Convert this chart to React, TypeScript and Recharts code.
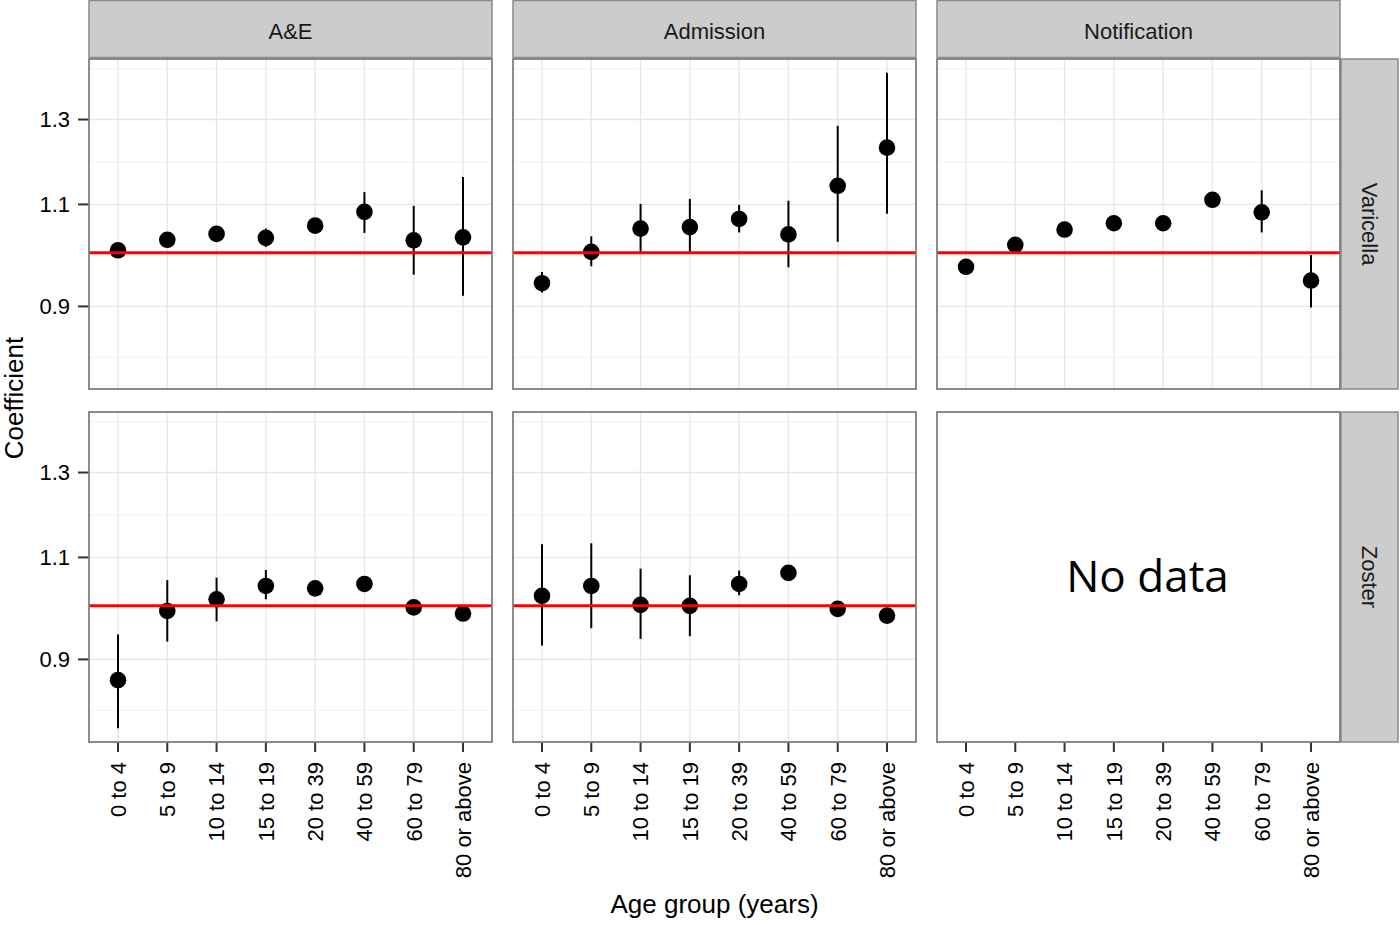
import React from "react";
import { ComposedChart, Scatter, XAxis, YAxis, ReferenceLine, ErrorBar } from "recharts";

const ageGroups = ["0 to 4", "5 to 9", "10 to 14", "15 to 19", "20 to 39", "40 to 59", "60 to 79", "80 or above"];
const sources = ["A&E", "Admission", "Notification"];
const diseases = ["Varicella", "Zoster"];

const yTicks = [0.9, 1.1, 1.3];
const yMinor = [0.814, 0.995, 1.196, 1.437];
const yDomain = [0.765, 1.4644];

const aeVaricellaEst = [1.005, 1.026, 1.038, 1.030, 1.055, 1.084, 1.025, 1.031];
const aeVaricellaLow = [0.995, 1.015, 1.027, 1.012, 1.045, 1.040, 0.958, 0.919];
const aeVaricellaHigh = [1.015, 1.037, 1.049, 1.049, 1.066, 1.127, 1.097, 1.161];

const admVaricellaEst = [0.942, 1.002, 1.049, 1.052, 1.069, 1.037, 1.141, 1.230];
const admVaricellaLow = [0.925, 0.974, 1.002, 1.002, 1.041, 0.972, 1.022, 1.080];
const admVaricellaHigh = [0.963, 1.033, 1.101, 1.112, 1.099, 1.108, 1.284, 1.425];

const notVaricellaEst = [0.973, 1.016, 1.047, 1.060, 1.060, 1.110, 1.083, 0.947];
const notVaricellaLow = [0.965, 1.008, 1.039, 1.052, 1.052, 1.102, 1.041, 0.898];
const notVaricellaHigh = [0.981, 1.024, 1.055, 1.068, 1.068, 1.118, 1.131, 0.996];

const aeZosterEst = [0.864, 0.990, 1.013, 1.040, 1.035, 1.044, 0.997, 0.985];
const aeZosterLow = [0.786, 0.932, 0.970, 1.013, 1.027, 1.036, 0.989, 0.977];
const aeZosterHigh = [0.945, 1.052, 1.057, 1.073, 1.043, 1.052, 1.005, 0.993];

const admZosterEst = [1.020, 1.040, 1.002, 1.000, 1.044, 1.067, 0.994, 0.981];
const admZosterLow = [0.925, 0.957, 0.937, 0.942, 1.021, 1.059, 0.986, 0.973];
const admZosterHigh = [1.129, 1.131, 1.076, 1.062, 1.072, 1.075, 1.002, 0.989];

const FONT = "'Liberation Sans', Arial, Helvetica, sans-serif";

function buildRows(est: number[], low: number[], high: number[]) {
  return ageGroups.map((age, i) => ({
    age,
    v: est[i],
    err: [est[i] - low[i], high[i] - est[i]],
  }));
}

const PANEL_W = 403;
const PANEL_H = 330;
const colLeft = [89, 513, 937];
const rowTop = [59, 412];
const Y_AXIS_W = 89;
const X_AXIS_H = 160;

const XTick = (props: any) => {
  const { x, y, payload } = props;
  return (
    <text
      x={x}
      y={y}
      transform={`rotate(-90, ${x}, ${y})`}
      textAnchor="end"
      dy="0.36em"
      fontSize={22}
      fill="#000"
      fontFamily={FONT}
    >
      {payload.value}
    </text>
  );
};

const Dot = (p: any) => <circle cx={p.cx} cy={p.cy} r={8.3} fill="#000" />;

type PanelProps = {
  col: number;
  row: number;
  rows?: { age: string; v: number; err: number[] }[];
  showX: boolean;
  showY: boolean;
};

function Panel({ col, row, rows, showX, showY }: PanelProps) {
  const left = colLeft[col] - (showY ? Y_AXIS_W : 0);
  const top = rowTop[row];
  const width = PANEL_W + (showY ? Y_AXIS_W : 0);
  const height = PANEL_H + (showX ? X_AXIS_H : 0);
  const empty = !rows;
  const data = rows ?? ageGroups.map((age) => ({ age }));
  return (
    <div style={{ position: "absolute", left, top, width, height }}>
      <ComposedChart width={width} height={height} data={data} margin={{ top: 0, right: 0, bottom: 0, left: 0 }}>
        <XAxis
          dataKey="age"
          type="category"
          scale="point"
          padding={{ left: 29, right: 29 }}
          hide={!showX}
          height={showX ? X_AXIS_H : 0}
          tick={<XTick />}
          tickSize={10}
          tickMargin={10}
          tickLine={{ stroke: "#333", strokeWidth: 2 }}
          axisLine={false}
          interval={0}
        />
        <YAxis
          dataKey="v"
          type="number"
          scale="log"
          domain={yDomain}
          allowDataOverflow
          ticks={yTicks}
          hide={!showY}
          width={Y_AXIS_W}
          tickSize={11}
          tickMargin={8}
          tickLine={{ stroke: "#333", strokeWidth: 2 }}
          axisLine={false}
          tick={{ fontSize: 22, fill: "#000", fontFamily: FONT }}
          tickFormatter={(v: number) => v.toFixed(1)}
          interval={0}
        />
        {!empty &&
          yMinor.map((v) => (
            <ReferenceLine key={"m" + v} y={v} stroke="#f3f3f3" strokeWidth={1.2} zIndex={-100} />
          ))}
        {!empty &&
          yTicks.map((v) => (
            <ReferenceLine key={"M" + v} y={v} stroke="#e6e6e6" strokeWidth={1.3} zIndex={-100} />
          ))}
        {!empty &&
          ageGroups.map((a) => (
            <ReferenceLine key={"v" + a} x={a} stroke="#e6e6e6" strokeWidth={1.3} zIndex={-100} />
          ))}
        {!empty && (
          <Scatter dataKey="v" isAnimationActive={false} shape={Dot}>
            <ErrorBar dataKey="err" direction="y" width={0} stroke="#000" strokeWidth={2} isAnimationActive={false} />
          </Scatter>
        )}
        {!empty && <ReferenceLine y={1} stroke="#ff0000" strokeWidth={3} zIndex={700} />}
      </ComposedChart>
    </div>
  );
}

function Overlay() {
  return (
    <svg
      width={1400}
      height={925}
      style={{ position: "absolute", left: 0, top: 0, pointerEvents: "none" }}
      fontFamily={FONT}
    >
      {sources.map((s, c) => (
        <g key={s}>
          <rect x={colLeft[c]} y={0.5} width={PANEL_W} height={57} fill="#cccccc" stroke="#8a8a8a" strokeWidth={1.5} />
          <text x={colLeft[c] + PANEL_W / 2} y={38.5} textAnchor="middle" fontSize={22} fill="#1a1a1a">
            {s}
          </text>
        </g>
      ))}
      {diseases.map((d, r) => (
        <g key={d}>
          <rect x={1341} y={rowTop[r]} width={57} height={PANEL_H} fill="#cccccc" stroke="#8a8a8a" strokeWidth={1.5} />
          <text
            transform={`translate(1361.5, ${rowTop[r] + PANEL_H / 2}) rotate(90)`}
            textAnchor="middle"
            fontSize={22}
            fill="#1a1a1a"
          >
            {d}
          </text>
        </g>
      ))}
      {rowTop.map((t) =>
        colLeft.map((l) => (
          <rect key={`${t}-${l}`} x={l} y={t} width={PANEL_W} height={PANEL_H} fill="none" stroke="#7f7f7f" strokeWidth={1.8} />
        ))
      )}
      <text x={1147.5} y={592} textAnchor="middle" fontSize={44} fill="#000" fontFamily="'Open Sans', sans-serif">
        No data
      </text>
      <text transform="translate(22.5, 398) rotate(-90)" textAnchor="middle" fontSize={26} fill="#000">
        Coefficient
      </text>
      <text x={714.5} y={913} textAnchor="middle" fontSize={26} fill="#000">
        Age group (years)
      </text>
    </svg>
  );
}

export default function App() {
  return (
    <div style={{ position: "absolute", left: 0, top: 0, width: 1400, height: 925, background: "#fff", fontFamily: FONT }}>
      <Panel col={0} row={0} rows={buildRows(aeVaricellaEst, aeVaricellaLow, aeVaricellaHigh)} showX={false} showY={true} />
      <Panel col={1} row={0} rows={buildRows(admVaricellaEst, admVaricellaLow, admVaricellaHigh)} showX={false} showY={false} />
      <Panel col={2} row={0} rows={buildRows(notVaricellaEst, notVaricellaLow, notVaricellaHigh)} showX={false} showY={false} />
      <Panel col={0} row={1} rows={buildRows(aeZosterEst, aeZosterLow, aeZosterHigh)} showX={true} showY={true} />
      <Panel col={1} row={1} rows={buildRows(admZosterEst, admZosterLow, admZosterHigh)} showX={true} showY={false} />
      <Panel col={2} row={1} showX={true} showY={false} />
      <Overlay />
    </div>
  );
}
